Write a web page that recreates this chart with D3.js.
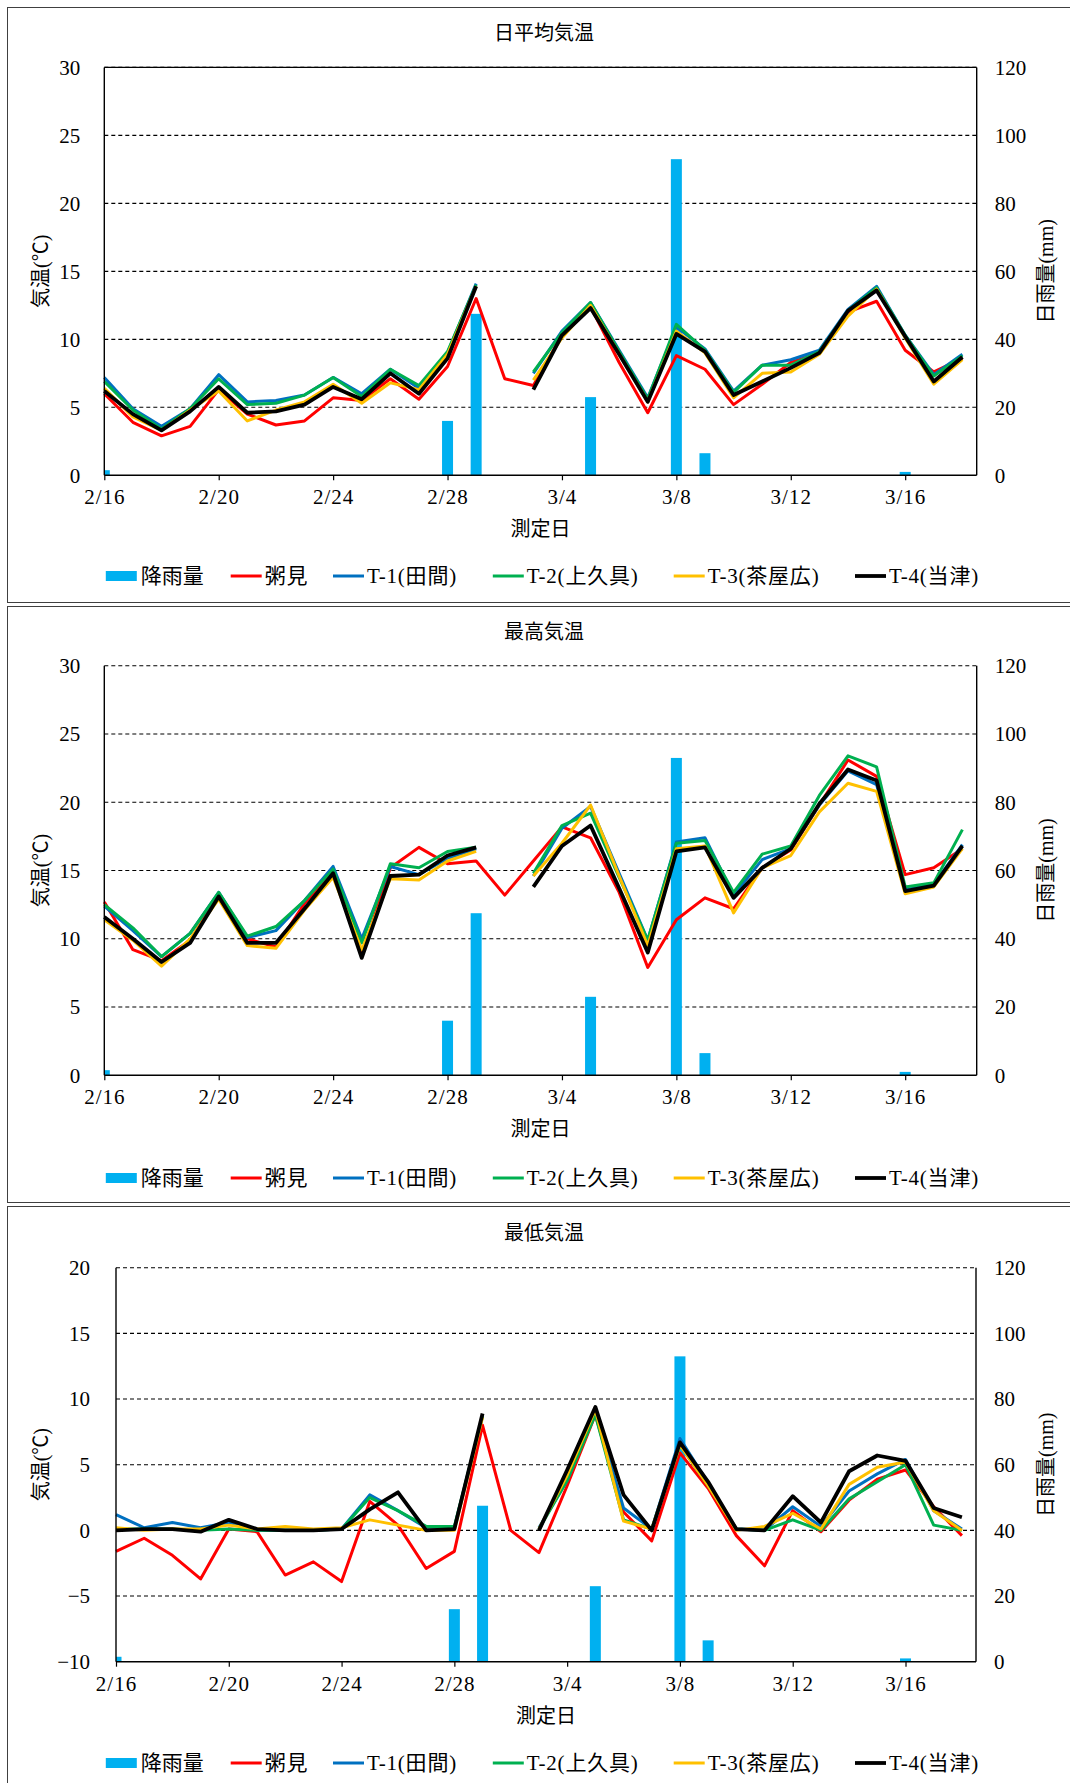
<!DOCTYPE html>
<html><head><meta charset="utf-8">
<script src="https://cdn.jsdelivr.net/npm/d3@7"></script>
<style>body{margin:0;background:#fff}svg{display:block}</style>
</head><body><svg id="c" width="1070" height="1783"></svg>
<script>
// ---------- data ----------
const categories = ["2/16","2/17","2/18","2/19","2/20","2/21","2/22","2/23","2/24","2/25","2/26","2/27","2/28",
  "3/1","3/2","3/3","3/4","3/5","3/6","3/7","3/8","3/9","3/10","3/11","3/12","3/13","3/14","3/15","3/16","3/17","3/18"];
const xTickIdx = [0,4,8,12,16,20,24,28];
const seriesNames = ["粥見","T-1(田間)","T-2(上久具)","T-3(茶屋広)","T-4(当津)"];
const rainName = "降雨量";
const rainfall = [1.5,0,0,0,0,0,0,0,0,0,0,0,16,47.5,0,0,0,23,0,0,93,6.5,0,0,0,0,0,0,1,0,0];

// 日平均気温
const avgAzami = [6.0,3.9,2.9,3.6,6.3,4.5,3.7,4.0,5.7,5.5,7.1,5.6,8.0,13.0,7.1,6.6,10.3,12.4,8.3,4.6,8.8,7.8,5.2,6.7,8.3,9.0,12.0,12.8,9.2,7.6,8.6];
const avgT1 = [7.2,4.9,3.6,4.9,7.4,5.4,5.5,5.9,7.2,6.0,7.8,6.4,9.0,14.1,null,7.5,10.6,12.7,9.2,5.7,10.9,9.3,6.2,8.1,8.5,9.2,12.2,13.9,10.3,7.4,8.9];
const avgT2 = [6.9,4.8,3.4,4.9,7.1,5.2,5.3,5.9,7.2,5.8,7.8,6.6,9.1,14.0,null,7.6,10.5,12.7,9.1,5.6,11.1,9.2,6.1,8.1,8.1,9.1,12.1,13.8,10.3,7.3,8.8];
const avgT3 = [6.4,4.3,3.3,4.8,6.2,4.0,4.8,5.4,6.7,5.3,6.8,6.3,8.9,13.9,null,7.0,10.1,12.5,8.9,5.4,10.6,9.0,5.7,7.5,7.6,8.9,11.7,13.7,10.1,6.7,8.5];
const avgT4 = [6.2,4.5,3.3,4.7,6.5,4.6,4.7,5.2,6.5,5.6,7.5,6.0,8.6,13.9,null,6.3,10.3,12.3,8.9,5.4,10.4,9.1,5.9,6.9,7.9,9.0,12.1,13.6,10.2,6.9,8.7];

// 最高気温
const maxAzami = [12.7,9.2,8.4,9.9,13.2,10.0,9.4,12.6,14.9,8.8,15.2,16.7,15.5,15.7,13.2,15.7,18.2,17.4,13.4,7.9,11.4,13.0,12.2,15.2,16.5,19.8,23.1,21.9,14.7,15.2,16.6];
const maxT1 = [12.4,10.6,8.7,10.4,13.4,10.1,10.6,12.8,15.3,10.0,15.3,14.7,15.9,16.6,null,14.6,18.1,19.7,14.8,9.9,17.1,17.4,13.2,15.8,16.6,19.8,22.3,21.3,13.6,14.0,16.9];
const maxT2 = [12.5,10.8,8.7,10.4,13.4,10.2,10.9,12.8,15.1,9.7,15.5,15.2,16.4,16.7,null,14.8,18.3,19.2,14.5,9.9,17.0,17.2,13.4,16.2,16.8,20.5,23.4,22.6,13.8,14.1,18.0];
const maxT3 = [11.4,9.9,8.0,10.0,12.9,9.5,9.3,12.1,14.5,9.2,14.4,14.3,15.7,16.4,null,14.6,17.0,19.8,14.6,9.5,16.6,16.8,11.9,15.2,16.1,19.3,21.4,20.8,13.3,13.8,16.6];
const maxT4 = [11.6,10.0,8.3,9.7,13.1,9.7,9.7,12.2,14.8,8.6,14.6,14.7,16.1,16.7,null,13.8,16.8,18.3,13.7,9.0,16.4,16.7,13.0,15.2,16.6,19.9,22.4,21.6,13.5,13.9,16.8];

// 最低気温
const minAzami = [-1.6,-0.6,-1.9,-3.7,0.1,-0.1,-3.4,-2.4,-3.9,2.2,0.4,-2.9,-1.6,8.0,0.0,-1.7,3.4,8.8,1.4,-0.8,5.9,3.2,-0.4,-2.7,1.5,-0.1,2.3,3.9,4.6,1.8,-0.4];
const minT1 = [1.2,0.2,0.6,0.2,0.6,0.0,0.0,0.0,0.1,2.7,1.5,0.2,0.2,8.7,null,0.2,3.8,9.0,1.7,0.1,7.0,3.6,0.1,0.0,1.8,0.3,3.0,4.3,5.4,1.5,0.1];
const minT2 = [0.1,0.1,0.1,0.0,0.1,0.0,0.0,0.0,0.1,2.5,1.5,0.3,0.3,8.7,null,0.1,3.8,8.8,0.8,0.1,6.5,3.4,0.1,0.0,0.8,0.0,2.4,3.7,5.0,0.4,0.0];
const minT3 = [0.2,0.0,0.1,0.1,0.4,0.1,0.3,0.1,0.2,0.8,0.4,0.0,0.0,8.6,null,0.1,4.2,9.2,0.7,0.1,6.5,3.4,0.0,0.3,1.3,0.1,3.5,4.8,5.2,1.5,0.0];
const minT4 = [0.0,0.1,0.1,-0.1,0.8,0.1,0.0,0.0,0.1,1.6,2.9,0.0,0.1,8.9,null,0.0,4.6,9.4,2.7,0.0,6.7,3.7,0.1,0.0,2.6,0.6,4.5,5.7,5.3,1.7,1.0];

const titles = ["日平均気温","最高気温","最低気温"];
const yTicksA = [0,5,10,15,20,25,30];
const yTicksC = [-10,-5,0,5,10,15,20];
const rainTicks = [0,20,40,60,80,100,120];

// ---------- layout / style ----------
const colors = ["#FF0000","#0070C0","#00B050","#FFC000","#000000"];
const widths = [3.0,3.0,3.0,3.0,3.8];
const rainColor = "#00B0F0";
const FONT = "'Liberation Serif','Noto Sans CJK JP',serif";
const legendX = [105.8,230.7,333,492.8,673.7,855];

const charts = [
  {title:titles[0], series:[avgAzami,avgT1,avgT2,avgT3,avgT4], yDom:[0,30], yTicks:yTicksA,
   box:[7,602], l:104.3, r:976.7, t:67.4, b:475.3, titleY:32.5, xTitleY:529, legY:576, topSolid:true},
  {title:titles[1], series:[maxAzami,maxT1,maxT2,maxT3,maxT4], yDom:[0,30], yTicks:yTicksA,
   box:[606,1202], l:104.3, r:976.7, t:665.8, b:1075.3, titleY:631.5, xTitleY:1129, legY:1178, topSolid:false},
  {title:titles[2], series:[minAzami,minT1,minT2,minT3,minT4], yDom:[-10,20], yTicks:yTicksC,
   box:[1206,1800], l:116, r:976, t:1267.7, b:1661.7, titleY:1232.5, xTitleY:1715.5, legY:1763, topSolid:false}
];

const svg = d3.select("#c");
svg.append("rect").attr("width",1070).attr("height",1783).attr("fill","#fff");

charts.forEach((c, ci) => {
  const g = svg.append("g");
  g.append("rect").attr("x",7.5).attr("y",c.box[0]+0.5).attr("width",1080).attr("height",c.box[1]-c.box[0])
    .attr("fill","#fff").attr("stroke","#404040").attr("stroke-width",1);

  const x = d3.scaleLinear().domain([0,30.5]).range([c.l,c.r]);
  const y = d3.scaleLinear().domain(c.yDom).range([c.b,c.t]);
  const yR = d3.scaleLinear().domain([0,120]).range([c.b,c.t]);

  // gridlines
  g.append("g").selectAll("line").data(c.yTicks.slice(1)).join("line")
    .attr("x1",c.l).attr("x2",c.r).attr("y1",d=>y(d)).attr("y2",d=>y(d))
    .attr("stroke","#000").attr("stroke-width",1.1).attr("stroke-dasharray","4,3");

  const clipId = "clip"+ci;
  g.append("clipPath").attr("id",clipId).append("rect")
    .attr("x",c.l).attr("y",c.t).attr("width",c.r-c.l).attr("height",c.b-c.t);

  // rain bars
  const bw = 11;
  g.append("g").attr("clip-path",`url(#${clipId})`).selectAll("rect").data(rainfall).join("rect")
    .attr("x",(d,i)=>x(i)-bw/2).attr("width",bw)
    .attr("y",d=>yR(d)).attr("height",d=>c.b-yR(d)).attr("fill",rainColor);

  // lines
  c.series.forEach((s, si) => {
    const line = d3.line().defined(d=>d!=null).x((d,i)=>x(i)).y(d=>y(d));
    g.append("path").datum(s).attr("d",line).attr("fill","none")
      .attr("stroke",colors[si]).attr("stroke-width",widths[si])
      .attr("stroke-linejoin","round").attr("stroke-linecap","butt");
  });

  // axes frame
  const ax = g.append("g").attr("stroke","#000").attr("stroke-width",1.4);
  ax.append("line").attr("x1",c.l).attr("x2",c.l).attr("y1",c.t).attr("y2",c.b);
  ax.append("line").attr("x1",c.r).attr("x2",c.r).attr("y1",c.t).attr("y2",c.b);
  ax.append("line").attr("x1",c.l).attr("x2",c.r).attr("y1",c.b).attr("y2",c.b);
  if (c.topSolid) ax.append("line").attr("x1",c.l).attr("x2",c.r).attr("y1",c.t).attr("y2",c.t);

  // x axis
  const xa = g.append("g").attr("transform",`translate(0,${c.b})`)
    .call(d3.axisBottom(x).tickValues(xTickIdx).tickFormat(i=>categories[i]).tickSize(5).tickPadding(9));
  xa.select(".domain").remove();
  xa.selectAll("line").attr("stroke","#000").attr("stroke-width",1.2);
  xa.selectAll("text").attr("font-family",FONT).attr("font-size",21).attr("letter-spacing",1).attr("fill","#000");

  // left axis
  const ya = g.append("g").attr("transform",`translate(${c.l},0)`)
    .call(d3.axisLeft(y).tickValues(c.yTicks).tickSize(0).tickPadding(ci===2?26:24));
  ya.select(".domain").remove();
  ya.selectAll("text").attr("font-family",FONT).attr("font-size",21).attr("fill","#000");

  // right axis
  const ra = g.append("g").attr("transform",`translate(${c.r},0)`)
    .call(d3.axisRight(yR).tickValues(rainTicks).tickSize(0).tickPadding(18));
  ra.select(".domain").remove();
  ra.selectAll("text").attr("font-family",FONT).attr("font-size",21).attr("fill","#000");

  // titles
  const midY = (c.t+c.b)/2;
  g.append("text").attr("x",544).attr("y",c.titleY).attr("text-anchor","middle").attr("dominant-baseline","central")
    .attr("font-family",FONT).attr("font-size",20).text(c.title);
  g.append("text").attr("x",(c.l+c.r)/2).attr("y",c.xTitleY).attr("text-anchor","middle").attr("dominant-baseline","central")
    .attr("font-family",FONT).attr("font-size",20).text("測定日");
  g.append("text").attr("transform",`translate(41,${midY}) rotate(-90)`).attr("text-anchor","middle").attr("dominant-baseline","central")
    .attr("font-family",FONT).attr("font-size",20).text("気温(℃)");
  g.append("text").attr("transform",`translate(1045.5,${midY}) rotate(-90)`).attr("text-anchor","middle").attr("dominant-baseline","central")
    .attr("font-family",FONT).attr("font-size",20).text("日雨量(mm)");

  // legend
  const lg = g.append("g");
  lg.append("rect").attr("x",legendX[0]).attr("y",c.legY-5).attr("width",31).attr("height",10).attr("fill",rainColor);
  lg.append("text").attr("x",legendX[0]+35).attr("y",c.legY).attr("dominant-baseline","central")
    .attr("font-family",FONT).attr("font-size",21).text(rainName);
  seriesNames.forEach((n, si) => {
    const lx = legendX[si+1];
    lg.append("line").attr("x1",lx).attr("x2",lx+31).attr("y1",c.legY).attr("y2",c.legY)
      .attr("stroke",colors[si]).attr("stroke-width",widths[si]);
    lg.append("text").attr("x",lx+34).attr("y",c.legY).attr("dominant-baseline","central")
      .attr("font-family",FONT).attr("font-size",21).attr("letter-spacing",0.8).text(n);
  });
});
</script>
</body></html>
